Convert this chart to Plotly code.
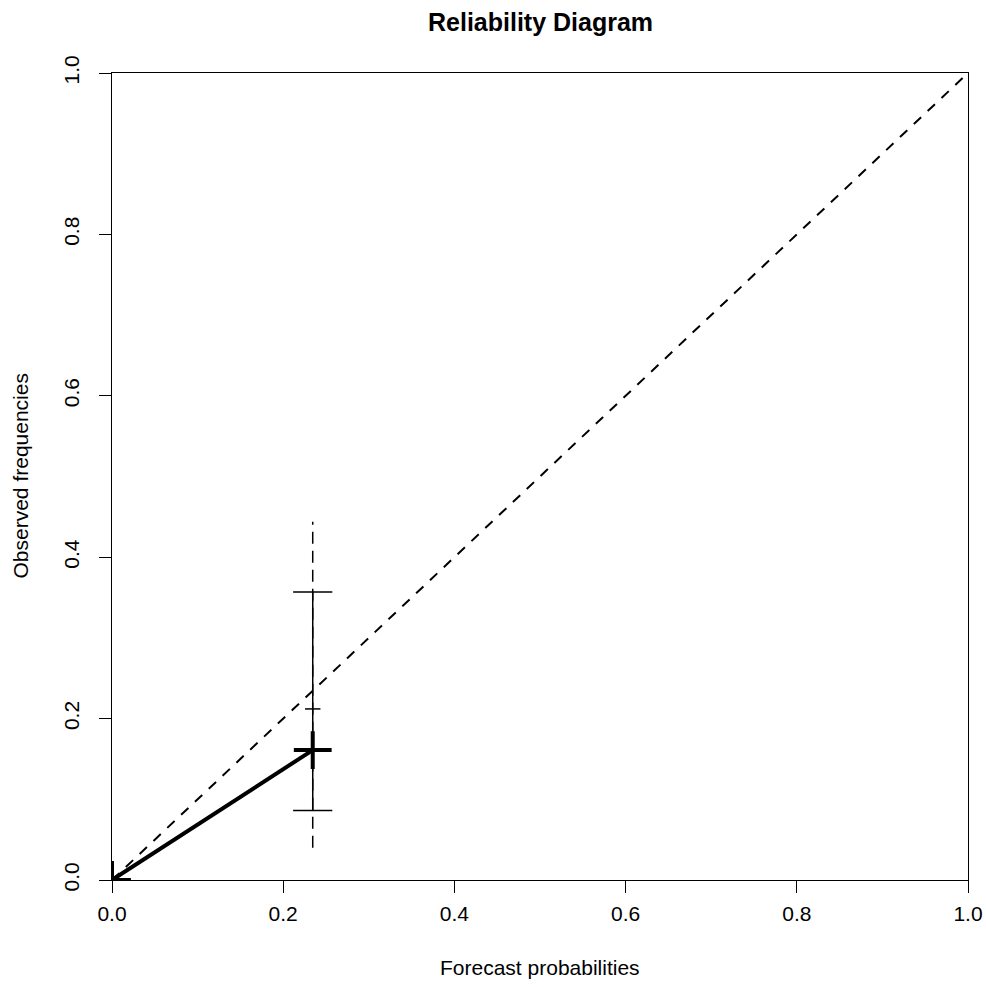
import plotly.graph_objects as go

# Data
forecast_prob = [0.0, 0.2345]
observed_freq = [0.0, 0.161]
ci_inner = [0.086, 0.357]      # solid error bar range
ci_outer = [0.040, 0.444]      # dashed extension range
ci_mid = [0.212]               # small tick
diag = [0.0, 1.0]
tick_vals = [0.0, 0.2, 0.4, 0.6, 0.8, 1.0]
tick_text = ["0.0", "0.2", "0.4", "0.6", "0.8", "1.0"]

FONT = "Liberation Sans, Arial, sans-serif"

fig = go.Figure()

# diagonal reference
fig.add_trace(go.Scatter(x=diag, y=diag, mode="lines",
                         line=dict(color="black", width=2, dash="10px,9px"),
                         hoverinfo="skip", showlegend=False))

xp = forecast_prob[-1]
# dashed outer interval
fig.add_trace(go.Scatter(x=[xp, xp], y=ci_outer, mode="lines",
                         line=dict(color="black", width=1.5, dash="12px,7px"),
                         showlegend=False))
# solid inner interval
fig.add_trace(go.Scatter(x=[xp, xp], y=ci_inner, mode="lines+markers",
                         line=dict(color="black", width=1.5),
                         marker=dict(symbol="line-ew", size=28,
                                     line=dict(color="black", width=1.5)),
                         showlegend=False))
# small middle tick
fig.add_trace(go.Scatter(x=[xp], y=ci_mid, mode="markers",
                         marker=dict(symbol="line-ew", size=11,
                                     line=dict(color="black", width=1.5)),
                         showlegend=False))
# reliability curve
fig.add_trace(go.Scatter(x=forecast_prob, y=observed_freq, mode="lines+markers",
                         line=dict(color="black", width=4),
                         marker=dict(symbol="cross-thin", size=27,
                                     line=dict(color="black", width=4)),
                         cliponaxis=True, showlegend=False))

axis_common = dict(range=[0, 1], tickvals=tick_vals, ticktext=tick_text,
                   ticks="outside", ticklen=12, tickwidth=1, tickcolor="black",
                   showline=True, linecolor="black", linewidth=1, mirror=True,
                   showgrid=False, zeroline=False, automargin=False,
                   tickfont=dict(family=FONT, size=21, color="black"))

fig.update_layout(
    width=986, height=987,
    margin=dict(l=112, r=18, t=73, b=107),
    paper_bgcolor="white", plot_bgcolor="white",
    xaxis=dict(**axis_common, ticklabelstandoff=3),
    yaxis=dict(**axis_common, tickangle=-90, ticklabelstandoff=12),
    font=dict(family=FONT, color="black"),
    annotations=[
        dict(text="<b>Reliability Diagram</b>", x=0.5, y=1, xref="paper", yref="paper",
             yshift=51, showarrow=False, font=dict(size=25, family=FONT),
             xanchor="center", yanchor="middle"),
        dict(text="Forecast probabilities", x=0.5, y=0, xref="paper", yref="paper",
             yshift=-87, showarrow=False, font=dict(size=21, family=FONT),
             xanchor="center", yanchor="middle"),
        dict(text="Observed frequencies", x=0, y=0.5, xref="paper", yref="paper",
             xshift=-92, showarrow=False, textangle=-90, font=dict(size=21, family=FONT),
             xanchor="center", yanchor="middle"),
    ],
)

fig.write_html("out.html")
